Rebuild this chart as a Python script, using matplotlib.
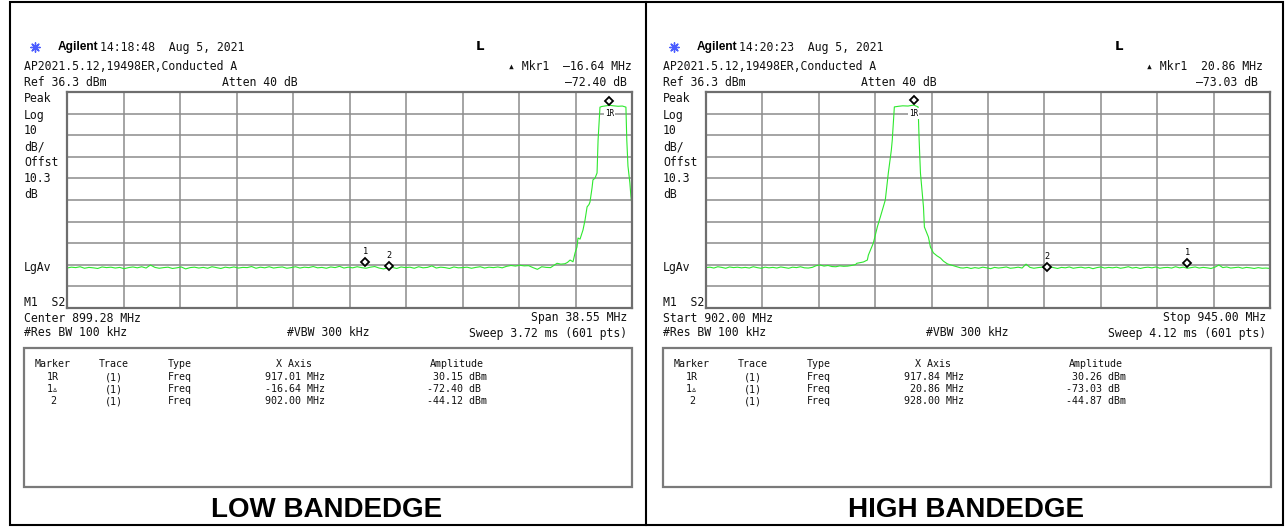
import numpy as np
import matplotlib
matplotlib.use('Agg')
import matplotlib.pyplot as plt
from matplotlib.patches import Rectangle
from matplotlib.transforms import offset_copy

W, H = 1285, 527
GREEN = '#2ee82e'
GRID = '#8c8c8c'
MONO = ['DejaVu Sans Mono', 'DejaVu Sans']

REF_LEVEL = 36.3

# ---- low band edge sweep (center 899.28, span 38.55) ----
low_center, low_span = 899.28, 38.55
low_floor_lvl = [
    -45.2, -44.8, -45.0, -44.6, -45.3, -44.9, -45.1, -45.4, -44.7, -45.0,
    -44.8, -45.2, -44.9, -45.5, -45.0, -44.7, -45.1, -44.6, -45.2, -43.8,
    -44.9, -45.3, -45.0, -44.8, -45.4, -45.1, -44.7, -45.6, -45.0, -44.8,
    -45.2, -44.9, -45.3, -44.6, -45.0, -45.4, -44.8, -45.1, -44.7, -45.2,
    -44.9, -45.0, -44.5, -45.3, -44.8, -45.1, -44.6, -45.2, -44.9, -44.7,
    -45.3, -45.0, -44.6, -45.2, -44.8, -45.0, -44.5, -45.1, -44.9, -45.3,
    -44.7, -45.0, -44.4, -45.2, -44.8, -45.1, -44.6, -45.0, -45.3, -44.8,
    -44.5, -45.2, -45.6, -45.1, -44.9, -45.4, -44.7, -45.0, -44.8, -45.3,
    -44.6, -45.1, -44.9, -44.2, -45.2, -44.8, -45.0, -45.4, -44.7, -45.1,
    -45.0, -44.8, -45.3, -44.9, -44.6, -45.2, -44.8, -45.0, -44.7, -45.1,
    -44.4, -44.0, -44.3, -43.9, -44.2, -44.1, -45.0, -45.8, -44.6, -44.9, -45.0,
]
low_floor_span = (880.0, 913.0)
low_edge_freq = [913.44, 913.70, 913.98, 914.15, 914.33, 914.53, 914.67, 914.80,
                 914.87, 915.01, 915.21, 915.35, 915.49, 915.62, 915.69, 915.83,
                 915.89, 916.03, 916.17, 916.24, 916.31, 916.37, 916.50, 916.70,
                 917.01, 917.30, 917.60, 917.90, 918.14, 918.20, 918.28, 918.41,
                 918.48, 918.555]
low_edge_lvl = [-43.0, -43.4, -43.2, -42.6, -41.5, -42.3, -38.2, -35.5,
                -31.3, -31.8, -27.6, -23.0, -16.9, -15.8, -14.6, -8.0,
                -4.4, -3.6, -1.2, 14.0, 22.0, 29.3, 29.6, 29.8,
                30.15, 29.9, 29.7, 29.8, 29.3, 14.0, 2.0, -5.8,
                -12.0, -16.0]
low_ref_freq, low_ref_amp = 917.01, 30.15
low_delta_freq, low_delta_amp = -16.64, -72.40
low_m2_freq, low_m2_amp = 902.00, -44.12

# ---- high band edge sweep (start 902, stop 945) ----
high_start, high_stop = 902.00, 945.00
high_floor1_lvl = [
    -45.0, -44.8, -45.2, -44.6, -44.9, -45.3, -44.7, -45.0, -44.8, -45.1,
    -44.9, -45.2, -44.6, -45.0, -45.3, -44.8, -45.1, -44.9, -45.2, -44.7,
    -45.0, -45.3, -44.8, -45.0, -44.6, -45.1, -45.2, -44.9, -44.1, -43.8,
    -44.3, -44.0, -44.5, -44.6, -44.2, -44.4, -44.3, -44.0, -43.6,
]
high_floor1_span = (902.0, 913.4)
high_edge_freq = [913.50, 914.00, 914.30, 914.38, 914.76, 915.06, 915.29, 915.67,
                  915.90, 916.13, 916.20, 916.36, 916.70, 917.00, 917.40, 917.84,
                  918.17, 918.25, 918.35, 918.58, 918.65, 918.96, 919.11, 919.34,
                  919.60, 919.88, 920.10, 920.41, 920.90, 921.40]
high_edge_lvl = [-43.0, -42.4, -41.5, -39.2, -33.6, -26.2, -21.6, -13.7,
                 -1.2, 9.4, 14.0, 29.4, 29.7, 29.9, 29.8, 30.26,
                 29.4, 14.0, -1.2, -16.9, -26.2, -30.9, -35.5, -38.2,
                 -39.5, -40.6, -42.0, -43.3, -44.2, -45.1]
high_floor2_lvl = [
    -45.2, -44.9, -45.4, -45.0, -45.3, -44.8, -45.1, -45.5, -44.9, -45.2,
    -45.0, -44.7, -45.3, -45.1, -44.8, -45.2, -43.4, -44.9, -45.3, -45.0,
    -44.8, -45.2, -44.6, -45.0, -45.4, -44.9, -45.1, -44.7, -45.3, -45.0,
    -44.8, -45.2, -44.9, -45.5, -45.0, -44.7, -45.2, -44.9, -45.1, -44.8,
    -45.3, -45.0, -44.6, -45.2, -44.9, -45.4, -45.0, -44.8, -45.1, -44.7,
    -45.3, -45.0, -44.9, -45.2, -44.6, -45.1, -44.8, -45.3, -45.0, -44.7,
    -45.2, -44.9, -45.1, -45.4, -44.8, -43.8, -45.0, -44.7, -45.2, -45.0,
    -44.8, -45.3, -44.9, -45.1, -45.4, -45.0, -45.3, -45.2, -45.4,
]
high_floor2_span = (921.6, 945.0)
high_ref_freq, high_ref_amp = 917.84, 30.26
high_delta_freq, high_delta_amp = 20.86, -73.03
high_m2_freq, high_m2_amp = 928.00, -44.87


def floor_freqs(span, levels):
    return list(np.linspace(span[0], span[1], len(levels)))


low_f = floor_freqs(low_floor_span, low_floor_lvl) + low_edge_freq
low_l = low_floor_lvl + low_edge_lvl
high_f = (floor_freqs(high_floor1_span, high_floor1_lvl) + high_edge_freq
          + floor_freqs(high_floor2_span, high_floor2_lvl))
high_l = high_floor1_lvl + high_edge_lvl + high_floor2_lvl

fig = plt.figure(figsize=(W / 100, H / 100), dpi=100)
bg = fig.add_axes([0, 0, 1, 1])
bg.set_xlim(0, W)
bg.set_ylim(H, 0)
bg.axis('off')

# outer frame and panel divider
bg.add_patch(Rectangle((10, 2), 1273, 523, fill=False, ec='black', lw=1.5))
bg.plot([646, 646], [2, 525], color='black', lw=1.5)


def txt(x, y, s, ha='left', size=8.3, **kw):
    kw.setdefault('family', MONO)
    bg.text(x, y, s, ha=ha, va='center', fontsize=size, color='#111111', **kw)


def draw_panel(ox, gx1, start, stop, freqs, levels, stamp, mkr_right, dB_right,
               range_left, range_right, sweep, ref, delta, m2, title):
    gx0 = 67 + ox
    # header
    bg.scatter([35 + ox], [47], marker=(8, 2, 0), s=45, color='#4a5cff', lw=1.0)
    bg.text(58 + ox, 47, 'Agilent', ha='left', va='center', fontsize=8.6,
            fontweight='bold', family='Liberation Sans', color='black')
    txt(100 + ox, 47, stamp)
    bg.text(480 + ox, 46, 'L', ha='center', va='center', fontsize=9.5,
            fontweight='bold', family='DejaVu Sans', color='black')
    txt(24 + ox, 66, 'AP2021.5.12,19498ER,Conducted A')
    txt(mkr_right, 66, '\u25b4 Mkr1  %s MHz' % ('%.2f' % delta[0]).replace('-', '\u2013'), ha='right')
    txt(24 + ox, 82, 'Ref %.1f dBm' % REF_LEVEL)
    txt(222 + ox, 82, 'Atten 40 dB')
    txt(dB_right, 82, ('%.2f dB' % delta[1]).replace('-', '\u2013'), ha='right')
    for lab, y in [('Peak', 99), ('Log', 115), ('10', 131), ('dB/', 147),
                   ('Offst', 163), ('10.3', 179), ('dB', 195), ('LgAv', 267),
                   ('M1  S2', 302)]:
        txt(24 + ox, y, lab)
    txt(24 + ox, 318, range_left)
    txt(627 + ox, 318, range_right, ha='right')
    txt(24 + ox, 333, '#Res BW 100 kHz')
    txt(328 + ox, 333, '#VBW 300 kHz', ha='center')
    txt(627 + ox, 333, sweep, ha='right')

    # trace window
    ax = fig.add_axes([gx0 / W, 1 - 308 / H, (gx1 - gx0) / W, 216 / H])
    ax.set_xlim(start, stop)
    ax.set_ylim(REF_LEVEL - 100, REF_LEVEL)
    ax.set_xticks(np.linspace(start, stop, 11))
    ax.set_yticks(REF_LEVEL - 10 * np.arange(11))
    ax.grid(True, color=GRID, lw=1.1)
    ax.tick_params(length=0, labelbottom=False, labelleft=False)
    for sp in ax.spines.values():
        sp.set_color('#6e6e6e')
        sp.set_linewidth(1.6)
    ax.plot(freqs, levels, color=GREEN, lw=0.8)

    ref_f, ref_a = ref
    d_f, d_a = ref_f + delta[0], ref_a + delta[1]
    m2_f, m2_a = m2
    up = offset_copy(ax.transData, fig=fig, x=0, y=3.3, units='points')
    ax.plot([ref_f], [ref_a], marker='D', ms=4.5, mfc='white', mec='black',
            mew=1.3, transform=up, zorder=6, clip_on=False)
    ax.annotate('1R', (ref_f, ref_a), xytext=(0, -6), textcoords='offset points',
                ha='center', va='center', fontsize=5.5, family=MONO,
                bbox=dict(boxstyle='square,pad=0.1', fc='white', ec='none'), zorder=5)
    for lab, f, a in [('1', d_f, d_a), ('2', m2_f, m2_a)]:
        ax.plot([f], [a], marker='D', ms=4.5, mfc='white', mec='black', mew=1.3,
                zorder=6)
        ax.annotate(lab, (f, a), xytext=(0, 7.5), textcoords='offset points',
                    ha='center', va='center', fontsize=6.2, family=MONO)

    # marker table
    bg.add_patch(Rectangle((24 + ox, 348), 608, 139, fill=False, ec='#7a7a7a', lw=1.6))
    ts = 7.2
    txt(53 + ox, 364, 'Marker', ha='center', size=ts)
    txt(114 + ox, 364, 'Trace', ha='center', size=ts)
    txt(168 + ox, 364, 'Type', size=ts)
    txt(294 + ox, 364, 'X Axis', ha='center', size=ts)
    txt(457 + ox, 364, 'Amplitude', ha='center', size=ts)
    rows = [('1R', '%6.2f MHz' % ref_f, '%6.2f dBm' % ref_a),
            ('1\u25b5', '%6.2f MHz' % delta[0], '%6.2f dB' % delta[1]),
            ('2', '%6.2f MHz' % m2_f, '%6.2f dBm' % m2_a)]
    for i, (name, xs, amp) in enumerate(rows):
        y = 377 + 12 * i
        txt(53 + ox, y, name, ha='center', size=ts)
        txt(114 + ox, y, '(1)', ha='center', size=ts)
        txt(168 + ox, y, 'Freq', size=ts)
        txt(265 + ox, y, xs, size=ts)
        txt(427 + ox, y, amp, size=ts)

    bg.text(327 + ox, 510, title, ha='center', va='center', fontsize=20,
            fontweight='bold', family='Liberation Sans', color='black')


draw_panel(0, 632, low_center - low_span / 2, low_center + low_span / 2, low_f, low_l,
           '14:18:48  Aug 5, 2021', 632, 627,
           'Center %.2f MHz' % low_center, 'Span %.2f MHz' % low_span,
           'Sweep 3.72 ms (601 pts)',
           (low_ref_freq, low_ref_amp), (low_delta_freq, low_delta_amp),
           (low_m2_freq, low_m2_amp), 'LOW BANDEDGE')
draw_panel(639, 1270, high_start, high_stop, high_f, high_l,
           '14:20:23  Aug 5, 2021', 1263, 1258,
           'Start %.2f MHz' % high_start, 'Stop %.2f MHz' % high_stop,
           'Sweep 4.12 ms (601 pts)',
           (high_ref_freq, high_ref_amp), (high_delta_freq, high_delta_amp),
           (high_m2_freq, high_m2_amp), 'HIGH BANDEDGE')

fig.savefig('out.png', dpi=100)
